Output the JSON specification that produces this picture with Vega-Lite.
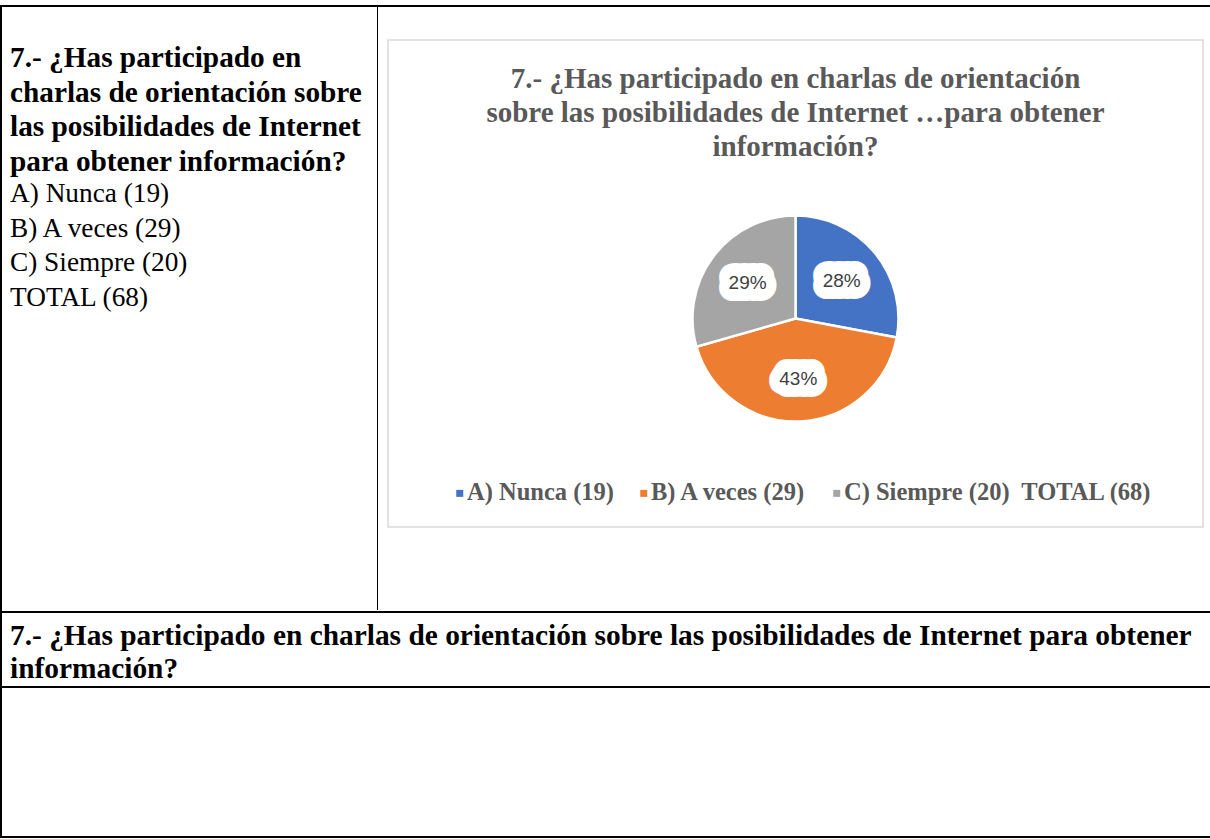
{
  "$schema": "https://vega.github.io/schema/vega-lite/v6.json",
  "padding": {"top": 5, "left": 0, "right": 0, "bottom": 0},
  "background": "white",
  "spacing": 0,
  "config": {"view": {"stroke": null}, "concat": {"spacing": 0}},
  "datasets": {
    "respuestas": [
      {"categoria": "A) Nunca (19)", "frecuencia": 19, "porcentaje": "28%"},
      {"categoria": "B) A veces (29)", "frecuencia": 29, "porcentaje": "43%"},
      {"categoria": "C) Siempre (20)", "frecuencia": 20, "porcentaje": "29%"}
    ],
    "vacio": []
  },
  "vconcat": [
    {"width": 1210, "height": 2, "data": {"name": "vacio"}, "mark": "point", "view": {"fill": "black", "stroke": null}},
    {
      "spacing": 0,
      "hconcat": [
        {"width": 2, "height": 831, "data": {"name": "vacio"}, "mark": "point", "view": {"fill": "black", "stroke": null}},
        {
          "spacing": 0,
          "vconcat": [
            {
              "spacing": 0,
              "hconcat": [
                {
                  "width": 375, "height": 603, "data": {"name": "vacio"}, "mark": "point", "view": {"stroke": null, "fill": null},
                  "title": {
                    "text": ["7.- ¿Has participado en", "charlas de orientación sobre", "las posibilidades de Internet", "para obtener información?"],
                    "subtitle": ["A) Nunca (19)", "B) A veces (29)", "C) Siempre (20)", "TOTAL (68)"],
                    "anchor": "start", "frame": "group", "orient": "top", "dx": 8,
                    "font": "Liberation Serif", "fontSize": 29.3, "fontWeight": "bold", "color": "black", "lineHeight": 34.5,
                    "subtitleFont": "Liberation Serif", "subtitleFontSize": 27.3, "subtitleFontWeight": "normal", "subtitleColor": "black", "subtitleLineHeight": 34.5, "subtitlePadding": 3,
                    "offset": -304
                  }
                },
                {"width": 1, "height": 603, "data": {"name": "vacio"}, "mark": "point", "view": {"fill": "black", "stroke": null}},
                {
                  "spacing": 0,
                  "vconcat": [
                    {"width": 831, "height": 32, "data": {"name": "vacio"}, "mark": "point", "view": {"stroke": null, "fill": null}},
                    {
                      "spacing": 0,
                      "hconcat": [
                        {"width": 9, "height": 487, "data": {"name": "vacio"}, "mark": "point", "view": {"stroke": null, "fill": null}},
                        {
                          "width": 815, "height": 487,
                          "view": {"stroke": "#D9D9D9", "strokeWidth": 1.5, "fill": "white"},
                          "data": {"name": "respuestas"},
                          "title": {
                            "text": ["7.- ¿Has participado en charlas de orientación", "sobre las posibilidades de Internet …para obtener", "información?"],
                            "anchor": "middle", "frame": "group", "orient": "top",
                            "font": "Liberation Serif", "fontSize": 29, "fontWeight": "bold", "color": "#595959",
                            "lineHeight": 34, "offset": -122
                          },
                          "encoding": {
                            "theta": {"field": "frecuencia", "type": "quantitative", "stack": true},
                            "order": {"field": "categoria", "type": "ordinal"}
                          },
                          "layer": [
                            {
                              "mark": {"type": "arc", "outerRadius": 103, "stroke": "white", "strokeWidth": 2.5, "yOffset": 35},
                              "encoding": {
                                "color": {
                                  "field": "categoria", "type": "nominal",
                                  "scale": {
                                    "domain": ["A) Nunca (19)", "B) A veces (29)", "C) Siempre (20)"],
                                    "range": ["#4472C4", "#ED7D31", "#A5A5A5"]
                                  },
                                  "legend": {
                                    "orient": "none", "legendX": 447.5, "legendY": 476, "direction": "horizontal",
                                    "title": null, "symbolType": "square", "symbolSize": 49, "symbolStrokeWidth": 0,
                                    "labelFont": "Liberation Serif", "labelFontSize": 24.5, "labelFontWeight": "bold",
                                    "labelColor": "#595959", "labelOffset": -5, "columnPadding": 17, "labelLimit": 0, "padding": 0,
                                    "labelExpr": "datum.label === 'C) Siempre (20)' ? 'C) Siempre (20)\u00a0 TOTAL (68)' : datum.label"
                                  }
                                }
                              }
                            },
                            {
                              "mark": {"type": "text", "radius": 60, "yOffset": 36, "font": "DejaVu Sans", "fontSize": 15, "fill": "white", "stroke": "white", "strokeWidth": 26, "strokeJoin": "round"},
                              "encoding": {"text": {"field": "porcentaje"}, "detail": {"field": "categoria"}}
                            },
                            {
                              "mark": {"type": "text", "radius": 60, "yOffset": 36, "font": "DejaVu Sans", "fontSize": 15, "fill": "white", "stroke": "white", "strokeWidth": 21, "strokeJoin": "round"},
                              "encoding": {"text": {"field": "porcentaje"}, "detail": {"field": "categoria"}}
                            },
                            {
                              "mark": {"type": "text", "radius": 60, "yOffset": 36, "font": "DejaVu Sans", "fontSize": 15, "fill": "white", "stroke": "white", "strokeWidth": 16, "strokeJoin": "round"},
                              "encoding": {"text": {"field": "porcentaje"}, "detail": {"field": "categoria"}}
                            },
                            {
                              "mark": {"type": "text", "radius": 60, "yOffset": 36, "font": "Liberation Sans", "fontSize": 19, "fill": "#404040"},
                              "encoding": {"text": {"field": "porcentaje"}, "detail": {"field": "categoria"}}
                            }
                          ]
                        },
                        {"width": 7, "height": 487, "data": {"name": "vacio"}, "mark": "point", "view": {"stroke": null, "fill": null}}
                      ]
                    },
                    {"width": 831, "height": 83, "data": {"name": "vacio"}, "mark": "point", "view": {"stroke": null, "fill": null}}
                  ]
                }
              ]
            },
            {"width": 1208, "height": 2, "data": {"name": "vacio"}, "mark": "point", "view": {"fill": "black", "stroke": null}},
            {
              "width": 1100, "height": 73, "data": {"name": "vacio"}, "mark": "point", "view": {"stroke": null, "fill": null},
              "title": {
                "text": ["7.- ¿Has participado en charlas de orientación sobre las posibilidades de Internet para obtener", "información?"],
                "anchor": "start", "frame": "group", "orient": "top", "dx": 8,
                "font": "Liberation Serif", "fontSize": 29.4, "fontWeight": "bold", "color": "black", "lineHeight": 33,
                "offset": -71
              }
            },
            {"width": 1208, "height": 2, "data": {"name": "vacio"}, "mark": "point", "view": {"fill": "black", "stroke": null}},
            {"width": 1150, "height": 148, "data": {"name": "vacio"}, "mark": "point", "view": {"stroke": null, "fill": null}},
            {"width": 1208, "height": 2, "data": {"name": "vacio"}, "mark": "point", "view": {"fill": "black", "stroke": null}}
          ]
        }
      ]
    }
  ]
}
